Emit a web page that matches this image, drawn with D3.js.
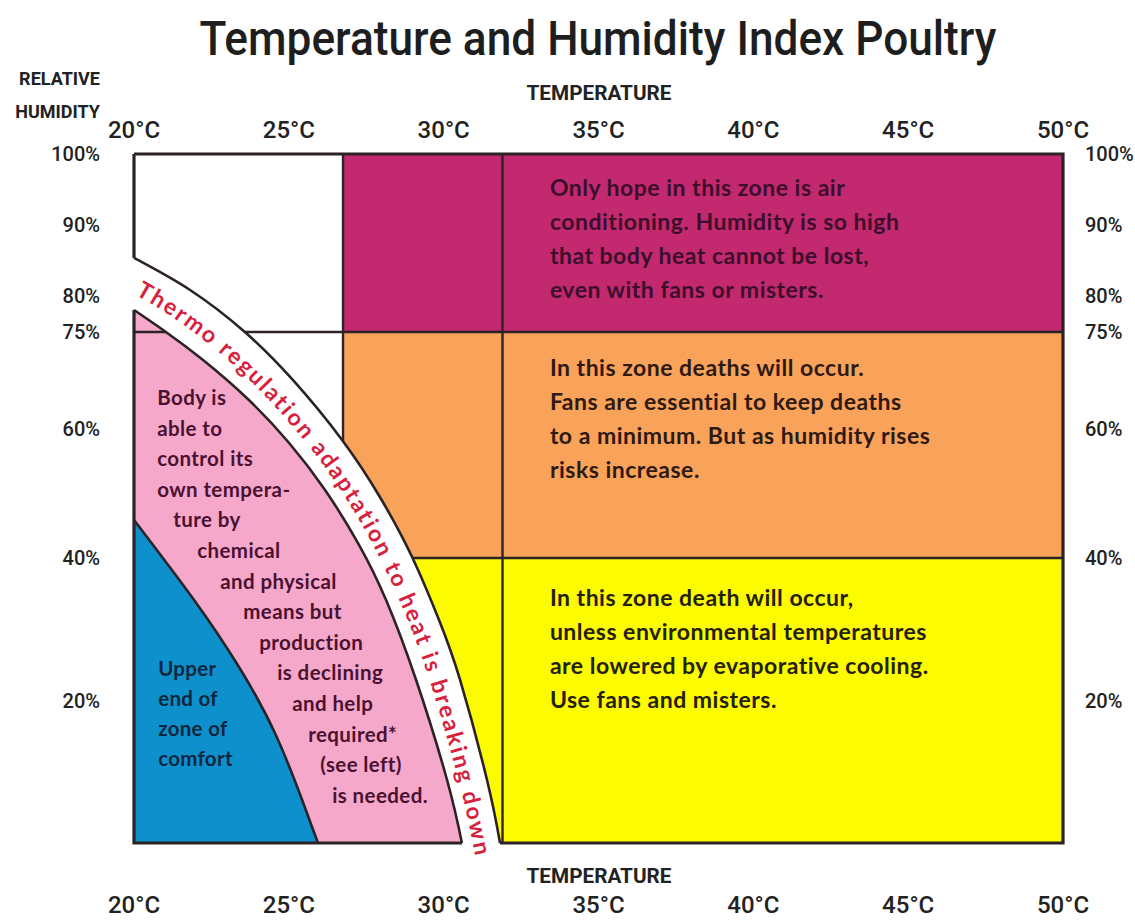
<!DOCTYPE html>
<html>
<head>
<meta charset="utf-8">
<style>
  body { margin: 0; background: #fff; }
  svg { display: block; }
  .narrow { font-family: Roboto, "Liberation Sans", sans-serif; }
  .zone { font-family: Lato, "Open Sans", sans-serif; font-weight: bold; }
</style>
</head>
<body>
<div id="chart"></div>
<script src="https://cdn.jsdelivr.net/npm/d3@7"></script>
<script>
// ---- data ----
const title = "Temperature and Humidity Index Poultry";
const tempTicks = [20, 25, 30, 35, 40, 45, 50];
const humidityTicks = [100, 90, 80, 75, 60, 40, 20];
const tempExtent = [20, 50];
const humidityExtent = [0, 100];
const tempSplits = [26.75, 31.9];      // vertical dividers, °C
const humiditySplits = [75, 40];       // horizontal dividers, %RH

// curves as [°C, %RH]
const outerCurve = [[20, 85.4], [21.81, 80.9], [23.58, 75], [25.13, 67.57], [26.72, 58.27], [27.94, 49.45],
  [28.98, 40.15], [29.85, 31.3], [30.53, 22.88], [31.4, 8.84], [31.82, 0]];
const innerCurve = [[20, 78.09], [21.03, 75], [22.23, 70.66], [23.71, 64.47], [25.01, 57.81], [26.17, 50.53],
  [27.27, 42.01], [28.14, 34.11], [29.11, 22.88], [30.11, 8.84], [30.59, 0]];
const comfortCurve = [[20, 45.89], [21.94, 34.11], [23.39, 24.7], [24.55, 15.44], [25.43, 6.04], [25.94, 0]];
const bandLabelCurve = [[20, 81.7], [21.42, 77.95], [22.91, 72.83], [24.42, 66], [25.86, 58.04], [27.06, 49.99],
  [28.12, 41.08], [28.99, 32.7], [29.82, 22.88], [30.75, 8.84], [31.21, 0], [31.33, -2.67]];

const bandLabel = "Thermo regulation adaptation to heat is breaking down";
const airZoneText = ["Only hope in this zone is air", "conditioning. Humidity is so high",
  "that body heat cannot be lost,", "even with fans or misters."];
const fanZoneText = ["In this zone deaths will occur.", "Fans are essential to keep deaths",
  "to a minimum. But as humidity rises", "risks increase."];
const coolZoneText = ["In this zone death will occur,", "unless environmental temperatures",
  "are lowered by evaporative cooling.", "Use fans and misters."];
const bodyText = ["Body is", "able to", "control its", "own tempera-", "ture by", "chemical", "and physical",
  "means but", "production", "is declining", "and help", "required*", "(see left)", "is needed."];
const comfortText = ["Upper", "end of", "zone of", "comfort"];

// ---- layout ----
width = 1135
height = 920
lineColor = "#2b2326"

x = d3.scaleLinear().domain(tempExtent).range([134, 1063])
y = d3.scaleLinear().domain([0, 40, 75, 100]).range([843, 558, 332, 154])

svg = d3.select("#chart").append("svg")
    .attr("width", width)
    .attr("height", height)

curveLine = d3.line()
    .x(d => x(d[0]))
    .y(d => y(d[1]))
    .curve(d3.curveNatural)

// region below/left of a curve, closed through the bottom-left corner
underCurve = pts => curveLine(pts) + `L${x(tempExtent[0])},${y(0)}Z`

// zone rectangles
zoneRects = [
  {t0: tempSplits[0], t1: tempExtent[1], h0: humiditySplits[0], h1: humidityExtent[1], fill: "#c2296f"},
  {t0: tempSplits[0], t1: tempExtent[1], h0: humiditySplits[1], h1: humiditySplits[0], fill: "#f9a25a"},
  {t0: tempExtent[0], t1: tempExtent[1], h0: humidityExtent[0], h1: humiditySplits[1], fill: "#fdfb00"}
]
svg.append("g").selectAll("rect")
  .data(zoneRects)
  .join("rect")
    .attr("x", d => x(d.t0))
    .attr("y", d => y(d.h1))
    .attr("width", d => x(d.t1) - x(d.t0))
    .attr("height", d => y(d.h0) - y(d.h1))
    .attr("fill", d => d.fill)

grid = svg.append("g").attr("stroke", lineColor).attr("stroke-width", 2.4)
grid.selectAll(".h")
  .data(humiditySplits)
  .join("line")
    .attr("x1", x(tempExtent[0])).attr("x2", x(tempExtent[1]))
    .attr("y1", d => y(d)).attr("y2", d => y(d))
grid.selectAll(".v")
  .data(tempSplits)
  .join("line")
    .attr("x1", d => x(d)).attr("x2", d => x(d))
    .attr("y1", y(100)).attr("y2", y(0))

// white band area, pink area, blue comfort area
svg.append("path").attr("d", underCurve(outerCurve)).attr("fill", "#fff")
svg.append("path").attr("d", underCurve(innerCurve)).attr("fill", "#f5a8ca")

svg.append("clipPath").attr("id", "pinkClip")
  .append("path").attr("d", underCurve(innerCurve))
svg.append("line")
    .attr("clip-path", "url(#pinkClip)")
    .attr("x1", x(tempExtent[0])).attr("x2", x(tempExtent[1]))
    .attr("y1", y(75)).attr("y2", y(75))
    .attr("stroke", lineColor).attr("stroke-width", 2.4)

svg.append("path").attr("d", underCurve(comfortCurve)).attr("fill", "#0d90cc")

// curve strokes
svg.append("g").selectAll("path")
  .data([outerCurve, innerCurve, comfortCurve])
  .join("path")
    .attr("d", curveLine)
    .attr("fill", "none")
    .attr("stroke", lineColor)
    .attr("stroke-width", 2.6)

// frame, open where the band passes
frame = [
  [[tempExtent[0], 100], [tempExtent[1], 100], [tempExtent[1], 0], [outerCurve[outerCurve.length - 1][0], 0]],
  [[tempExtent[0], 100], [tempExtent[0], outerCurve[0][1]]],
  [[tempExtent[0], innerCurve[0][1]], [tempExtent[0], 0], [innerCurve[innerCurve.length - 1][0], 0]]
]
svg.append("g").selectAll("path")
  .data(frame)
  .join("path")
    .attr("d", d3.line().x(d => x(d[0])).y(d => y(d[1])))
    .attr("fill", "none")
    .attr("stroke", lineColor)
    .attr("stroke-width", 3.2)

// band label along its curve, one word per text so each box stays small
svg.append("path")
    .attr("id", "bandPath")
    .attr("d", curveLine(bandLabelCurve))
    .attr("fill", "none")
bandLen = svg.select("#bandPath").node().getTotalLength()

bandFont = g => g.attr("class", "zone").attr("font-size", 23).attr("font-weight", 600)
measure = svg.append("text").call(bandFont).attr("opacity", 0).text(bandLabel)
natural = measure.node().getComputedTextLength()
letterGap = (bandLen - 14 - natural) / (bandLabel.length - 1)
let cursor = 0
bandWords = bandLabel.split(" ").map(w => {
  const start = bandLabel.indexOf(w, cursor)
  cursor = start + w.length
  const before = start === 0 ? 0 : measure.node().getSubStringLength(0, start)
  return {word: w, offset: 6 + before + start * letterGap}
})
measure.remove()

svg.append("g").call(bandFont)
    .attr("fill", "#d81f3d")
    .attr("letter-spacing", letterGap)
  .selectAll("text")
  .data(bandWords)
  .join("text")
    .attr("dy", "0.36em")
  .append("textPath")
    .attr("href", "#bandPath")
    .attr("startOffset", d => d.offset)
    .text(d => d.word)

// zone descriptions, one text element per line
function block(lines, tx, hy, color, size, lh, spacing, indents) {
  svg.append("g")
      .attr("class", "zone")
      .attr("fill", color)
      .attr("font-size", size)
      .attr("letter-spacing", spacing)
    .selectAll("text")
    .data(lines)
    .join("text")
      .attr("x", (d, i) => x(tx) + (indents ? indents[i] : 0))
      .attr("y", (d, i) => y(hy) + i * lh)
      .attr("dy", "0.35em")
      .text(d => d)
}
block(airZoneText, 33.43, 95.2, "#3d0e2b", 23, 34, 0.5)
block(fanZoneText, 33.43, 69.4, "#2e1a12", 23, 34, 0.5)
block(coolZoneText, 33.43, 34.4, "#24200c", 23, 34, 0.5)
block(bodyText, 20.75, 64.8, "#4b1131", 20.5, 30.6, 0.4,
  [0, 0, 0, 0, 16, 40, 63, 86, 102, 120, 135, 151, 163, 175])
block(comfortText, 20.78, 24.5, "#10263f", 20.5, 30, 0.3)

// axis labels
tickRow = (yPos) => svg.append("g").attr("class", "narrow").attr("fill", "#222")
  .attr("font-weight", 500)
  .attr("transform", `translate(0,${yPos})`)
  .call(g => g.selectAll("text").data(tempTicks).join("text")
    .attr("x", d => x(d)).attr("text-anchor", "middle").attr("dy", "0.35em")
    .attr("font-size", 24).text(d => `${d}°C`))
tickRow(130)
tickRow(905)

labels = svg.append("g").attr("class", "narrow").attr("fill", "#222").attr("font-weight", 500)
labels.selectAll(".yl").data(humidityTicks).join("text")
    .attr("class", "yl")
    .attr("x", 100).attr("y", d => y(d)).attr("dy", "0.35em")
    .attr("text-anchor", "end").attr("font-size", 20)
    .text(d => `${d}%`)
labels.selectAll(".yr").data(humidityTicks).join("text")
    .attr("class", "yr")
    .attr("x", 1085).attr("y", d => y(d)).attr("dy", "0.35em")
    .attr("font-size", 20)
    .text(d => `${d}%`)

labels.selectAll(".tt").data([93, 876]).join("text")
    .attr("class", "tt")
    .attr("x", 599).attr("y", d => d).attr("dy", "0.35em")
    .attr("text-anchor", "middle").attr("font-size", 20).attr("font-weight", "bold")
    .attr("textLength", 145).attr("lengthAdjust", "spacingAndGlyphs")
    .text("TEMPERATURE")
labels.selectAll(".rh").data(["RELATIVE", "HUMIDITY"]).join("text")
    .attr("class", "rh")
    .attr("x", 100).attr("y", (d, i) => 79 + i * 33).attr("dy", "0.35em")
    .attr("text-anchor", "end").attr("font-size", 18).attr("font-weight", "bold")
    .text(d => d)

svg.append("text")
    .attr("class", "narrow")
    .attr("x", 598).attr("y", 38).attr("dy", "0.35em")
    .attr("text-anchor", "middle")
    .attr("font-size", 48)
    .attr("font-weight", 500)
    .attr("fill", "#1e1e1e")
    .attr("textLength", 797)
    .attr("lengthAdjust", "spacingAndGlyphs")
    .text(title)
</script>
</body>
</html>
